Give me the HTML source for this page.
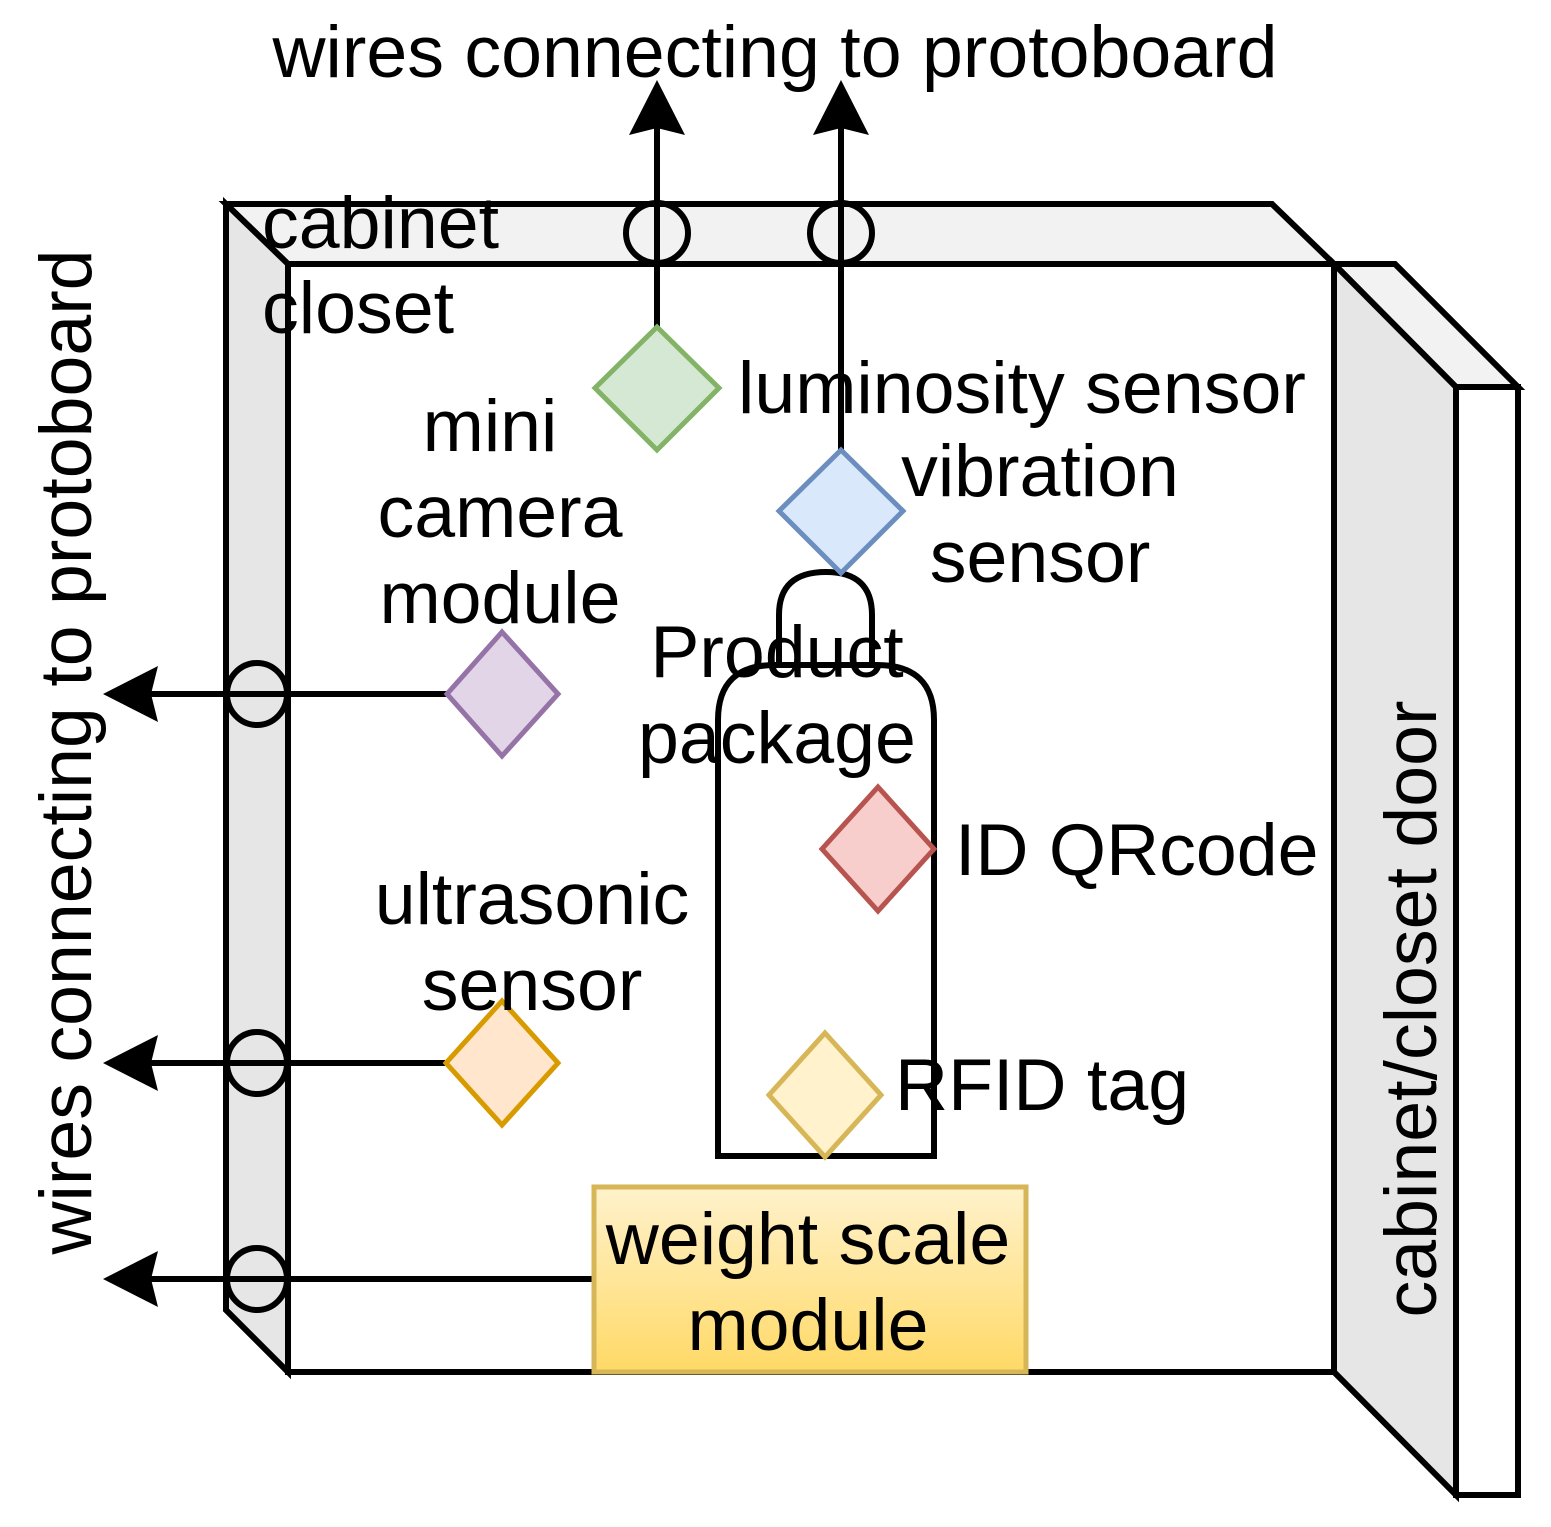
<!DOCTYPE html>
<html><head><meta charset="utf-8"><style>body{margin:0;background:#fff}</style></head><body>
<svg width="1551" height="1522" viewBox="0 0 1551 1522" xmlns="http://www.w3.org/2000/svg" font-family="Liberation Sans, sans-serif">
<defs>
<linearGradient id="g" x1="0" y1="0" x2="0" y2="1"><stop offset="0" stop-color="#fff2cc"/><stop offset="1" stop-color="#ffd966"/></linearGradient>
</defs>
<g stroke="#000" stroke-width="6" stroke-linejoin="miter">
<polygon points="226,204 1272,204 1334,264 288,264" fill="#f2f2f2"/>
<polygon points="226,204 288,264 288,1372 226,1310" fill="#e6e6e6"/>
<rect x="288" y="264" width="1046" height="1108" fill="#fff"/>
<polygon points="1334,264 1395,264 1518,387 1456,387" fill="#f2f2f2"/>
<polygon points="1334,264 1456,387 1456,1495 1334,1372" fill="#e6e6e6"/>
<rect x="1456" y="387" width="62" height="1108" fill="#fff"/>
<ellipse cx="657" cy="233" rx="31" ry="30" fill="none"/>
<ellipse cx="841" cy="233" rx="31" ry="30" fill="none"/>
<ellipse cx="257" cy="694" rx="30" ry="31" fill="none"/>
<ellipse cx="257" cy="1063" rx="30" ry="31" fill="none"/>
<ellipse cx="257" cy="1279" rx="30" ry="31" fill="none"/>
<line x1="657" y1="327" x2="657" y2="125"/>
<line x1="841" y1="450" x2="841" y2="125"/>
<line x1="447" y1="694" x2="150" y2="694"/>
<line x1="445" y1="1063" x2="150" y2="1063"/>
<line x1="594" y1="1279" x2="150" y2="1279"/>
<path d="M718,1156 V720 Q718,665 775,665 H877 Q934,665 934,720 V1156 Z" fill="#fff"/>
<path d="M779,665 V615 Q779,572 826,572 Q872,572 872,615 V665" fill="none"/>
</g>
<g fill="#000">
<polygon points="657,80 629,135 657,128 685,135"/>
<polygon points="841,80 813,135 841,128 869,135"/>
<polygon points="103,694 158,666 151,694 158,722"/>
<polygon points="103,1063 158,1035 151,1063 158,1091"/>
<polygon points="103,1279 158,1251 151,1279 158,1307"/>
</g>
<g stroke-width="5">
<polygon points="657,327 719,388 657,450 595,388" fill="#d5e8d4" stroke="#82b366"/>
<polygon points="841,450 903,511 841,573 779,511" fill="#dae8fc" stroke="#6c8ebf"/>
<polygon points="502,632 558,694 502,756 447,694" fill="#e1d5e7" stroke="#9673a6"/>
<polygon points="502,1001 558,1063 502,1125 446,1063" fill="#ffe6cc" stroke="#d79b00"/>
<polygon points="878,787 934,849 878,911 822,849" fill="#f8cecc" stroke="#b85450"/>
<polygon points="825,1033 881,1095 825,1157 769,1095" fill="#fff2cc" stroke="#d6b656"/>
<rect x="594" y="1187" width="432" height="185" fill="url(#g)" stroke="#d6b656"/>
</g>
<g font-size="73.5" fill="#000">
<text x="775" y="77" text-anchor="middle">wires connecting to protoboard</text>
<text x="262" y="248">cabinet</text>
<text x="262" y="333">closet</text>
<text x="490" y="451" text-anchor="middle">mini</text>
<text x="500" y="537" text-anchor="middle">camera</text>
<text x="500" y="623" text-anchor="middle">module</text>
<text x="738" y="413">luminosity sensor</text>
<text x="1040" y="496" text-anchor="middle">vibration</text>
<text x="1040" y="582" text-anchor="middle">sensor</text>
<text x="777" y="677" text-anchor="middle">Product</text>
<text x="777" y="763" text-anchor="middle">package</text>
<text x="955" y="875">ID QRcode</text>
<text x="532" y="924" text-anchor="middle">ultrasonic</text>
<text x="532" y="1010" text-anchor="middle">sensor</text>
<text x="895" y="1110">RFID tag</text>
<text x="808" y="1264" text-anchor="middle">weight scale</text>
<text x="808" y="1350" text-anchor="middle">module</text>
<text transform="translate(91,752) rotate(-90)" text-anchor="middle">wires connecting to protoboard</text>
<text transform="translate(1436,1009) rotate(-90)" text-anchor="middle">cabinet/closet door</text>
</g>
</svg>
</body></html>
